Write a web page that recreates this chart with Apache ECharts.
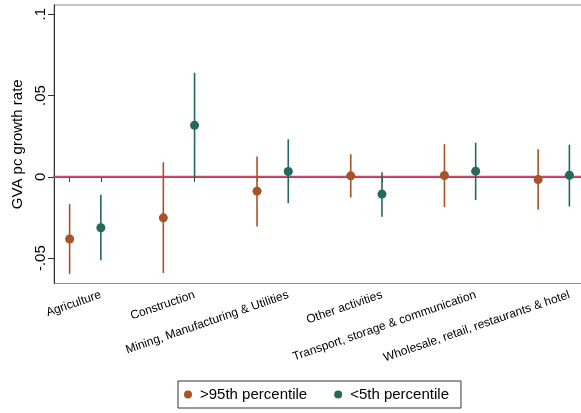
<!DOCTYPE html>
<html>
<head>
<meta charset="utf-8">
<script src="https://cdn.jsdelivr.net/npm/echarts@6/dist/echarts.min.js"></script>
<style>
  html, body { margin: 0; padding: 0; background: #fff; }
  #chart { width: 581px; height: 413px; }
</style>
</head>
<body>
<div id="chart"></div>
<script>
// Sectors along the x axis
const sectors = [
  'Agriculture',
  'Construction',
  'Mining, Manufacturing & Utilities',
  'Other activities',
  'Transport, storage & communication',
  'Wholesale, retail, restaurants & hotel'
];

// Point estimates and confidence bounds, >95th percentile group
const highEst = [-0.0382, -0.0252, -0.0088, 0.0006, 0.0008, -0.0017];
const highLow = [-0.0597, -0.0591, -0.0305, -0.0127, -0.0186, -0.0202];
const highUp  = [-0.0168, 0.0090, 0.0125, 0.0139, 0.0201, 0.0170];

// Point estimates and confidence bounds, <5th percentile group
const lowEst = [-0.0313, 0.0317, 0.0033, -0.0106, 0.0035, 0.0010];
const lowLow = [-0.0513, -0.0008, -0.0162, -0.0245, -0.0143, -0.0182];
const lowUp  = [-0.0110, 0.0640, 0.0231, 0.0029, 0.0210, 0.0198];

// Y axis tick values and their printed labels
const yTicks = [-0.05, 0, 0.05, 0.1];
const yTickLabels = ['-.05', '0', '.05', '.1'];

const seriesNames = ['>95th percentile', '<5th percentile'];
const colors = ['#a8522a', '#26675e'];

// Slot layout: each sector takes two adjacent slots followed by one empty slot
const slots = [];
const tickSlots = new Set();
const labelSlots = {};
sectors.forEach((s, k) => {
  slots.push('h' + k, 'l' + k);
  tickSlots.add(3 * k); tickSlots.add(3 * k + 1);
  labelSlots[3 * k + 1] = s;
  if (k < sectors.length - 1) slots.push('g' + k);
});

const highPts = highEst.map((v, k) => [3 * k, v]);
const lowPts = lowEst.map((v, k) => [3 * k + 1, v]);
const highBars = highEst.map((v, k) => [3 * k, highLow[k], highUp[k]]);
const lowBars = lowEst.map((v, k) => [3 * k + 1, lowLow[k], lowUp[k]]);

function whisker(color) {
  return function (params, api) {
    const x = api.value(0);
    const a = api.coord([x, api.value(1)]);
    const b = api.coord([x, api.value(2)]);
    return {
      type: 'line',
      shape: { x1: a[0], y1: a[1], x2: b[0], y2: b[1] },
      style: { stroke: color, lineWidth: 1.6 }
    };
  };
}

const chart = echarts.init(document.getElementById('chart'), null, { renderer: 'canvas' });

chart.setOption({
  animation: false,
  backgroundColor: '#fff',
  textStyle: { fontFamily: 'Liberation Sans, Arial, sans-serif' },
  grid: {
    left: 54, top: 5, width: 531, height: 278.5,
    outerBoundsMode: 'none', containLabel: false,
    show: true, borderColor: '#8c8c8c', borderWidth: 1, backgroundColor: 'transparent'
  },
  legend: {
    left: 178, top: 381,
    orient: 'horizontal',
    data: seriesNames.map(n => ({ name: n, icon: 'circle' })),
    itemWidth: 8, itemHeight: 8, itemGap: 27,
    borderColor: '#333', borderWidth: 1,
    padding: [6, 12, 6, 6],
    textStyle: { fontSize: 15, color: '#000', padding: [0, 0, 0, 3] }
  },
  xAxis: {
    type: 'category',
    data: slots,
    boundaryGap: true,
    axisLine: { show: true, lineStyle: { color: '#333', width: 1 } },
    axisTick: {
      show: true, alignWithLabel: true, length: 5,
      interval: (i) => tickSlots.has(i),
      lineStyle: { color: '#333' }
    },
    axisLabel: {
      interval: (i) => labelSlots[i] !== undefined,
      formatter: (v, i) => labelSlots[i] || '',
      rotate: 19, fontSize: 12, color: '#000', margin: 11
    },
    splitLine: { show: false }
  },
  yAxis: {
    type: 'value',
    min: -0.0656, max: 0.1057,
    name: 'GVA pc growth rate',
    nameLocation: 'middle',
    nameGap: 25,
    nameTextStyle: { fontSize: 15, color: '#000' },
    axisLine: { show: true, lineStyle: { color: '#333', width: 1 } },
    axisTick: { show: true, length: 6, customValues: yTicks, lineStyle: { color: '#333' } },
    axisLabel: {
      customValues: yTicks,
      formatter: (v) => yTickLabels[yTicks.findIndex(t => Math.abs(t - v) < 1e-9)],
      rotate: 90, fontSize: 15, color: '#000', margin: 6
    },
    splitLine: { show: false }
  },
  series: [
    {
      type: 'line', data: [[-1, 0], [17, 0]], silent: true, symbol: 'none',
      lineStyle: { color: '#d1496b', width: 2 }, z: 1
    },
    {
      name: seriesNames[0], type: 'custom', renderItem: whisker(colors[0]),
      data: highBars, encode: { x: 0, y: [1, 2] }, z: 2, itemStyle: { color: colors[0] }
    },
    {
      name: seriesNames[1], type: 'custom', renderItem: whisker(colors[1]),
      data: lowBars, encode: { x: 0, y: [1, 2] }, z: 2, itemStyle: { color: colors[1] }
    },
    {
      name: seriesNames[0], type: 'scatter', data: highPts, symbolSize: 9,
      itemStyle: { color: colors[0], opacity: 1 }, z: 3
    },
    {
      name: seriesNames[1], type: 'scatter', data: lowPts, symbolSize: 9,
      itemStyle: { color: colors[1], opacity: 1 }, z: 3
    }
  ]
});
</script>
</body>
</html>
